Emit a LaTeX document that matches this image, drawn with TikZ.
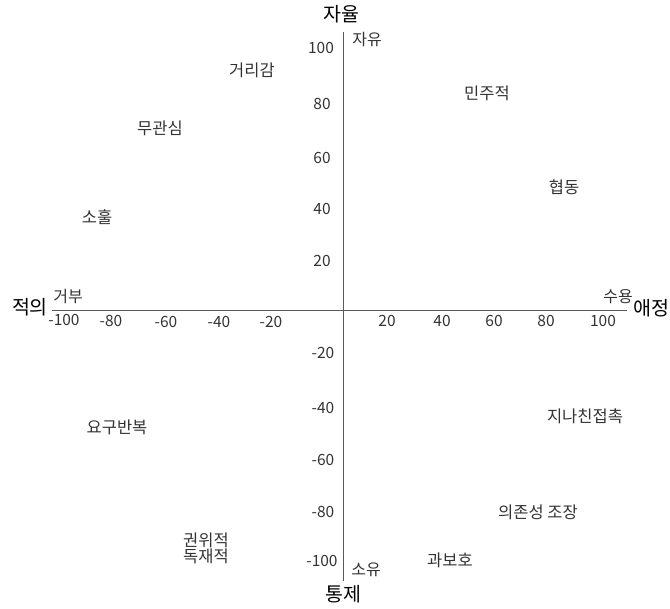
\documentclass[tikz,border=0pt]{standalone}
\usepackage{fontspec}
\setmainfont{Noto Sans CJK KR}
\usepackage{tikz}
\tikzset{
  axis line/.style={
    line width=0.9pt,
    color=black!65
  },
  tick label/.style={
    font=\fontsize{15.5}{18}\selectfont,
    color=black!80,
    inner sep=0pt
  },
  pole label/.style={
    font=\fontsize{16}{18}\selectfont,
    color=black!80,
    inner sep=0pt
  },
  axis name/.style={
    font=\fontsize{19.5}{22}\selectfont,
    color=black,
    inner sep=0pt
  },
  style label/.style={
    font=\fontsize{16.5}{19}\selectfont,
    color=black!80,
    inner sep=0pt,
    align=center
  }
}

\begin{document}
\begin{tikzpicture}[x=1pt, y=-1pt]

  %% ---- 전체 크기 (670 x 609) ----
  \useasboundingbox (0,0) rectangle (670,609);

  %% ---- 축 ----
  \coordinate (top)    at (343, 32);
  \coordinate (bottom) at (343, 581);
  \coordinate (left)   at (52, 310);
  \coordinate (right)  at (627, 310);

  \draw[axis line] (top) -- (bottom);
  \draw[axis line] (left) -- (right);

  %% ---- 축 이름 ----
  \node[axis name] (jayul)  at (341, 14)  {자율};
  \node[axis name] (tongje) at (343, 594) {통제};
  \node[axis name] (jeogui) at (30, 307)  {적의};
  \node[axis name] (aejeong) at (651, 308) {애정};

  %% ---- 양 끝 ----
  \node[pole label] (jayu)  at (367, 40)  {자유};
  \node[pole label] (soyu)  at (366, 570) {소유};
  \node[pole label] (geobu) at (68, 297)  {거부};
  \node[pole label] (suyong) at (618, 297) {수용};

  %% ---- 가로 눈금 ----
  \node[tick label] (xm100) at (64, 320)  {-100};
  \node[tick label] (xm80)  at (111, 321) {-80};
  \node[tick label] (xm60)  at (166, 322) {-60};
  \node[tick label] (xm40)  at (219, 322) {-40};
  \node[tick label] (xm20)  at (271, 322) {-20};
  \node[tick label] (xp20)  at (387, 321) {20};
  \node[tick label] (xp40)  at (442, 321) {40};
  \node[tick label] (xp60)  at (494, 321) {60};
  \node[tick label] (xp80)  at (546, 321) {80};
  \node[tick label] (xp100) at (603, 321) {100};

  %% ---- 세로 눈금 ----
  \node[tick label] (yp100) at (321, 48)  {100};
  \node[tick label] (yp80)  at (322, 104) {80};
  \node[tick label] (yp60)  at (322, 158) {60};
  \node[tick label] (yp40)  at (322, 209) {40};
  \node[tick label] (yp20)  at (322, 261) {20};
  \node[tick label] (ym20)  at (323, 353) {-20};
  \node[tick label] (ym40)  at (323, 408) {-40};
  \node[tick label] (ym60)  at (323, 460) {-60};
  \node[tick label] (ym80)  at (323, 512) {-80};
  \node[tick label] (ym100) at (322, 561) {-100};

  %% ---- 2사분면 ----
  \node[style label] (georigam) at (252, 70)  {거리감};
  \node[style label] (mugwansim) at (160, 128) {무관심};
  \node[style label] (sohul)    at (97, 217)  {소훌};

  %% ---- 1사분면 ----
  \node[style label] (minju)  at (487, 93)  {민주적};
  \node[style label] (hyeopdong) at (564, 187) {협동};

  %% ---- 3사분면 ----
  \node[style label] (yogu)   at (117, 427) {요구반복};
  \node[style label] (gwonwi) at (206, 548) {권위적\\[-3pt]독재적};

  %% ---- 4사분면 ----
  \node[style label] (jeopchok) at (585, 416) {지나친접촉};
  \node[style label] (uijon)    at (538, 512) {의존성 조장};
  \node[style label] (gwabo)    at (450, 560) {과보호};

\end{tikzpicture}
\end{document}
